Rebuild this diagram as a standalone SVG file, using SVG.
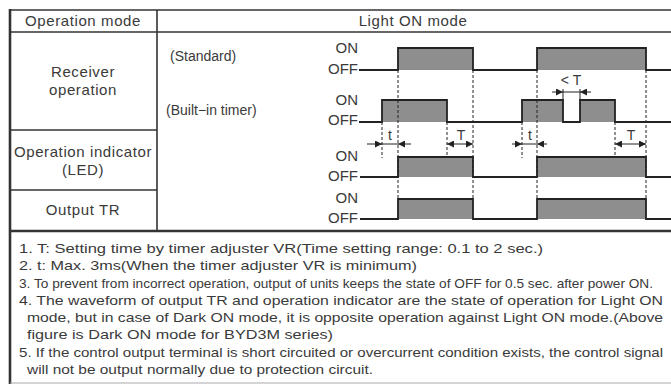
<svg xmlns="http://www.w3.org/2000/svg" width="671" height="386" viewBox="0 0 671 386">
<defs>
<style>
.t{font-family:"Liberation Sans",Arial,sans-serif;fill:#3a3a3a}
.lbl{font-size:15px;letter-spacing:0.6px;text-anchor:middle}
.sig{font-size:15px;text-anchor:end}
.sub{font-size:14px}
.dim{font-size:14px;text-anchor:middle}
.note{font-size:13.5px}
.grid{stroke:#333;stroke-width:1.6;fill:none}
.wave{stroke:#222;stroke-width:1.8;fill:none;stroke-linejoin:miter}
.fill{fill:#8e8e8e}
.dash{stroke:#222;stroke-width:1;stroke-dasharray:3 2;fill:none}
.arr{stroke:#222;stroke-width:1;fill:none}
</style>
<marker id="ah" viewBox="0 0 10 10" refX="10" refY="5" markerWidth="7" markerHeight="7" markerUnits="userSpaceOnUse" orient="auto">
<path d="M0,0 L10,5 L0,10 Z" fill="#222"/>
</marker>
</defs>
<rect width="671" height="386" fill="#fff"/>

<g id="table">
<line class="grid" x1="10" y1="10" x2="671" y2="10"/>
<line class="grid" x1="10" y1="32" x2="671" y2="32"/>
<line class="grid" x1="10" y1="130" x2="157" y2="130"/>
<line class="grid" x1="10" y1="190" x2="157" y2="190"/>
<line x1="10" y1="231" x2="671" y2="231" stroke="#333" stroke-width="2.6"/>
<line class="grid" x1="157" y1="10" x2="157" y2="231"/>
<line x1="10" y1="9" x2="10" y2="384" stroke="#333" stroke-width="2.6"/>
<line x1="10" y1="383" x2="671" y2="383" stroke="#aaa" stroke-width="1.2"/>
</g>

<g id="header">
<text class="t lbl" x="83" y="26">Operation mode</text>
<text class="t lbl" x="413" y="26">Light ON mode</text>
</g>

<g id="receiver">
<text class="t lbl" x="83" y="77">Receiver</text>
<text class="t lbl" x="83" y="95">operation</text>
<text class="t sub" x="170" y="61">(Standard)</text>
<text class="t sub" x="166" y="115">(Built−in timer)</text>
<text class="t sig" x="358" y="53">ON</text>
<text class="t sig" x="358" y="74">OFF</text>
<text class="t sig" x="358" y="105">ON</text>
<text class="t sig" x="358" y="125">OFF</text>
<rect class="fill" x="398" y="48" width="75" height="22"/>
<rect class="fill" x="537" y="48" width="109" height="22"/>
<path class="wave" d="M359,70 H398 V48 H473 V70 H537 V48 H646 V70 H671"/>
<rect class="fill" x="382" y="100" width="65" height="22"/>
<rect class="fill" x="522" y="100" width="41" height="22"/>
<rect class="fill" x="580" y="100" width="35" height="22"/>
<path class="wave" d="M359,122 H382 V100 H447 V122 H522 V100 H563 V122 H580 V100 H615 V122 H671"/>
</g>

<g id="led">
<text class="t lbl" x="83" y="157">Operation indicator</text>
<text class="t lbl" x="83" y="175">(LED)</text>
<text class="t sig" x="358" y="161">ON</text>
<text class="t sig" x="358" y="181">OFF</text>
<rect class="fill" x="398" y="157" width="75" height="20"/>
<rect class="fill" x="537" y="157" width="109" height="20"/>
<path class="wave" d="M360,177 H398 V157 H473 V177 H537 V157 H646 V177 H671"/>
</g>

<g id="output">
<text class="t lbl" x="83" y="215">Output TR</text>
<text class="t sig" x="358" y="203">ON</text>
<text class="t sig" x="358" y="223">OFF</text>
<rect class="fill" x="398" y="199" width="75" height="20"/>
<rect class="fill" x="537" y="199" width="109" height="20"/>
<path class="wave" d="M360,219 H398 V199 H473 V219 H537 V199 H646 V219 H671"/>
</g>

<g id="connectors">
<line class="dash" x1="398" y1="70" x2="398" y2="199"/>
<line class="dash" x1="473" y1="70" x2="473" y2="199"/>
<line class="dash" x1="537" y1="70" x2="537" y2="199"/>
<line class="dash" x1="646" y1="70" x2="646" y2="199"/>
<line class="dash" x1="382" y1="122" x2="382" y2="158"/>
<line class="dash" x1="447" y1="122" x2="447" y2="157"/>
<line class="dash" x1="522" y1="122" x2="522" y2="158"/>
<line class="dash" x1="615" y1="122" x2="615" y2="157"/>
<line class="arr" x1="563" y1="89" x2="563" y2="100"/>
<line class="arr" x1="580" y1="89" x2="580" y2="100"/>
<line class="arr" x1="552" y1="92" x2="563" y2="92" marker-end="url(#ah)"/>
<line class="arr" x1="591" y1="92" x2="580" y2="92" marker-end="url(#ah)"/>
<line class="arr" x1="563" y1="92" x2="580" y2="92"/>
<line class="arr" x1="367" y1="144" x2="382" y2="144" marker-end="url(#ah)"/>
<line class="arr" x1="411" y1="144" x2="398" y2="144" marker-end="url(#ah)"/>
<line class="arr" x1="382" y1="144" x2="398" y2="144"/>
<line class="arr" x1="512" y1="144" x2="522" y2="144" marker-end="url(#ah)"/>
<line class="arr" x1="547" y1="144" x2="537" y2="144" marker-end="url(#ah)"/>
<line class="arr" x1="522" y1="144" x2="537" y2="144"/>
<line class="arr" x1="460" y1="144" x2="447" y2="144" marker-end="url(#ah)"/>
<line class="arr" x1="460" y1="144" x2="473" y2="144" marker-end="url(#ah)"/>
<line class="arr" x1="630" y1="144" x2="615" y2="144" marker-end="url(#ah)"/>
<line class="arr" x1="630" y1="144" x2="646" y2="144" marker-end="url(#ah)"/>
</g>

<g id="dim-labels">
<text class="t dim" x="571" y="85">&lt; T</text>
<text class="t dim" x="390" y="140">t</text>
<text class="t dim" x="461" y="140">T</text>
<text class="t dim" x="530" y="140">t</text>
<text class="t dim" x="631" y="140">T</text>
</g>

<g id="notes">
<text class="t note" x="19" y="253" textLength="524" lengthAdjust="spacingAndGlyphs">1. T: Setting time by timer adjuster VR(Time setting range: 0.1 to 2 sec.)</text>
<text class="t note" x="19" y="270" textLength="398" lengthAdjust="spacingAndGlyphs">2. t: Max. 3ms(When the timer adjuster VR is minimum)</text>
<text class="t note" x="19" y="288" textLength="634" lengthAdjust="spacingAndGlyphs">3. To prevent from incorrect operation, output of units keeps the state of OFF for 0.5 sec. after power ON.</text>
<text class="t note" x="19" y="305" textLength="644" lengthAdjust="spacingAndGlyphs">4. The waveform of output TR and operation indicator are the state of operation for Light ON</text>
<text class="t note" x="27" y="322" textLength="636" lengthAdjust="spacingAndGlyphs">mode, but in case of Dark ON mode, it is opposite operation against Light ON mode.(Above</text>
<text class="t note" x="27" y="339" textLength="306" lengthAdjust="spacingAndGlyphs">figure is Dark ON mode for BYD3M series)</text>
<text class="t note" x="19" y="357" textLength="644" lengthAdjust="spacingAndGlyphs">5. If the control output terminal is short circuited or overcurrent condition exists, the control signal</text>
<text class="t note" x="27" y="374" textLength="346" lengthAdjust="spacingAndGlyphs">will not be output normally due to protection circuit.</text>
</g>
</svg>
